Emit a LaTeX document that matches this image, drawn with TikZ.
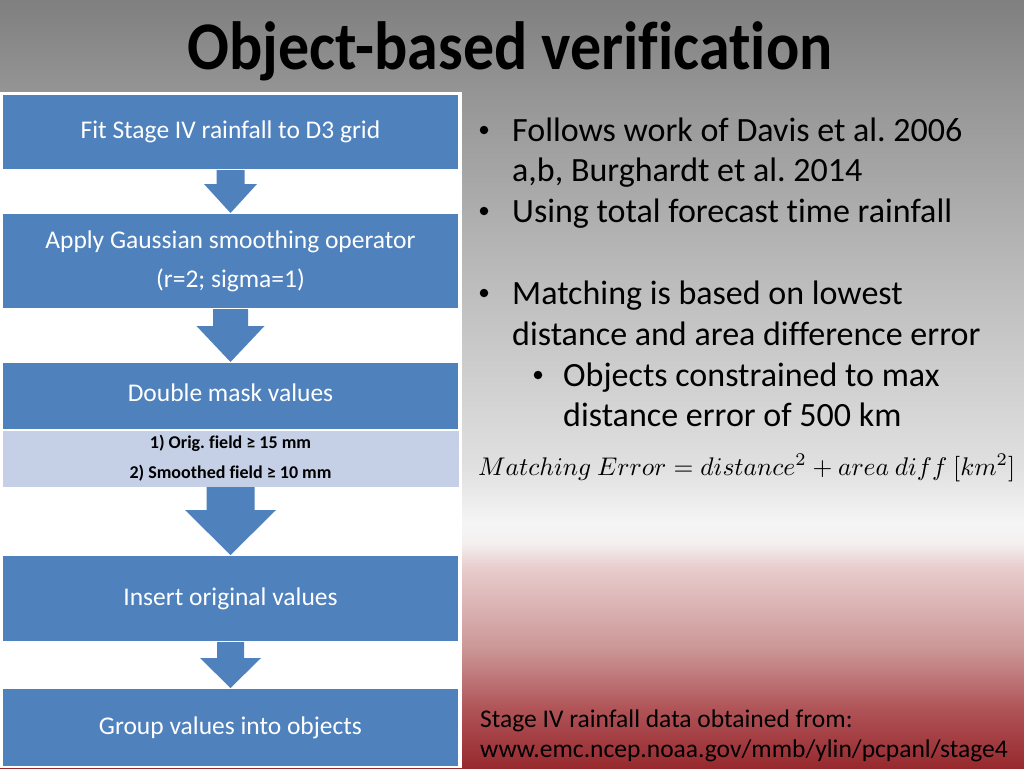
\documentclass[tikz,border=0pt]{standalone}
\usepackage{fontspec}
\setmainfont{Carlito}[Ligatures={NoCommon}]
\usetikzlibrary{calc}
\frenchspacing
\definecolor{boxblue}{RGB}{79,129,189}
\definecolor{lightblue}{RGB}{197,208,230}
\pgfdeclareverticalshading{bgshade}{100bp}{%
rgb(0bp)=(0.59,0.16,0.18);
rgb(25bp)=(0.59,0.16,0.18);
rgb(28.91bp)=(0.69,0.33,0.345);
rgb(32.81bp)=(0.80,0.59,0.59);
rgb(38.02bp)=(0.91,0.80,0.80);
rgb(39.65bp)=(0.96,0.94,0.94);
rgb(40.95bp)=(0.96,0.96,0.96);
rgb(44.53bp)=(0.88,0.88,0.88);
rgb(55.60bp)=(0.75,0.75,0.75);
rgb(68.49bp)=(0.59,0.59,0.59);
rgb(75bp)=(0.5,0.5,0.5);
rgb(100bp)=(0.5,0.5,0.5)}
\newcommand\blockarrow[5]{%
\fill[boxblue] ($(#1.south)+(-#3,0)$) -- ($(#1.south)+(#3,0)$)
 -- ($(#2.north)+(#3,-#5)$) -- ($(#2.north)+(#4,-#5)$) -- (#2.north)
 -- ($(#2.north)+(-#4,-#5)$) -- ($(#2.north)+(-#3,-#5)$) -- cycle;}
\tikzset{
  flowbox/.style={fill=boxblue, draw=white, line width=1.2pt, minimum width=457pt,
    inner sep=0pt, outer sep=0pt, text=white, align=center,
    font=\fontsize{25.5}{39}\selectfont},
  maskbox/.style={fill=lightblue, draw=white, line width=0.8pt, minimum width=457pt,
    inner sep=0pt, outer sep=0pt, text=black, align=center,
    font=\bfseries\fontsize{18}{30}\selectfont},
  bullettext/.style={anchor=base west, inner sep=0pt, font=\fontsize{34}{40}\selectfont},
  bulletdot/.style={circle, fill=black, inner sep=0pt, minimum size=8.5pt},
  smalltext/.style={anchor=base west, inner sep=0pt, font=\fontsize{25.5}{30}\selectfont}
}
\begin{document}
\begin{tikzpicture}[x=1pt,y=-1pt]
\useasboundingbox (0,0) rectangle (1024,768);
\shade[shading=bgshade] (0,0) rectangle (1024,768);
% title
\node[anchor=base, inner sep=0pt, font=\bfseries\fontsize{62}{70}\selectfont] (title) at (510,70) {\scalebox{1}[1.1]{Object-based verification}};
% left panel
\fill[white] (0,92) rectangle (461.5,768);
% boxes
\node[flowbox, minimum height=76pt] (b1) at (230.5,132) {Fit Stage IV rainfall to D3 grid};
\node[flowbox, minimum height=96pt] (b2) at (230.5,261) {Apply Gaussian smoothing operator\\(r=2; sigma=1)};
\node[flowbox, minimum height=68pt] (b3) at (230.5,396) {};
\node[anchor=center, text=white, font=\fontsize{25.5}{30}\selectfont, inner sep=0pt] (b3t) at (230.5,393) {Double mask values};
\node[maskbox, minimum height=57pt] (mask) at (230.5,458.5) {1) Orig. field ≥ 15 mm\\2) Smoothed field ≥ 10 mm};
\node[flowbox, minimum height=87pt] (b4) at (230.5,598.5) {Insert original values};
\node[flowbox, minimum height=79pt] (b5) at (230.5,727.5) {Group values into objects};
% arrows
\blockarrow{b1}{b2}{14}{26.5}{29}
\blockarrow{b2}{b3}{17.5}{34}{36}
\blockarrow{mask}{b4}{24}{45.5}{45}
\blockarrow{b4}{b5}{13.5}{30.5}{30}
% bullets
\node[bulletdot] (d1) at (484,130) {};
\node[bullettext] (t1) at (512,141) {Follows work of Davis et al. 2006};
\node[bullettext] (t2) at (512,181) {a,b, Burghardt et al. 2014};
\node[bulletdot] (d2) at (484,211) {};
\node[bullettext] (t3) at (512,222) {Using total forecast time rainfall};
\node[bulletdot] (d3) at (484,293) {};
\node[bullettext] (t4) at (512,304) {Matching is based on lowest};
\node[bullettext] (t5) at (512,345) {distance and area difference error};
\node[bulletdot] (d4) at (538,375) {};
\node[bullettext] (t6) at (563,386) {Objects constrained to max};
\node[bullettext] (t7) at (563,426) {distance error of 500 km};
% equation
\node[anchor=base west, inner sep=0pt] (eq) at (478,475) {\resizebox{537pt}{!}{$Matching\ Error = distance^2 + area\ diff\ [km^2]$}};
% source
\node[smalltext] (s1) at (480,727) {Stage IV rainfall data obtained from:};
\node[smalltext] (s2) at (480,757) {www.emc.ncep.noaa.gov/mmb/ylin/pcpanl/stage4};
\end{tikzpicture}
\end{document}
